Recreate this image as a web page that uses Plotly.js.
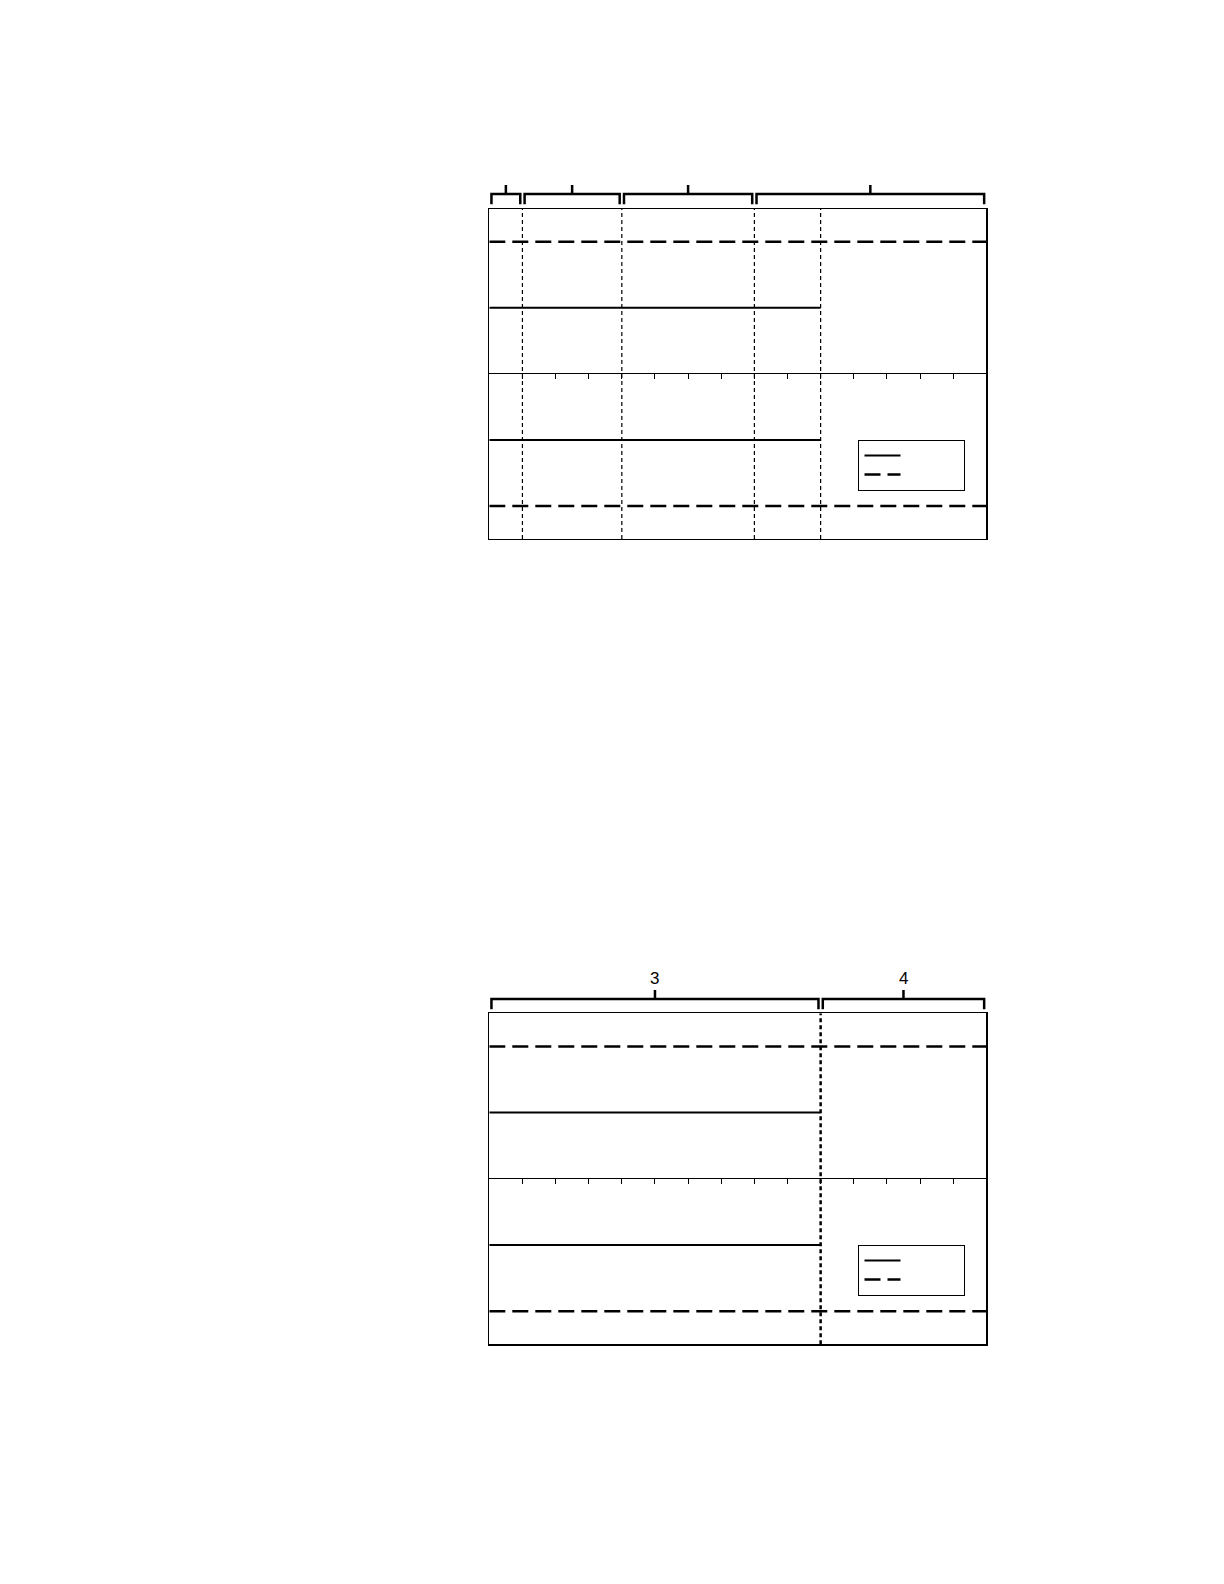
<!DOCTYPE html>
<html>
<head>
<meta charset="utf-8">
<script src="https://cdn.plot.ly/plotly-3.0.1.min.js"></script>
<style>
  html, body { margin: 0; padding: 0; background: #fff; overflow: hidden; }
  #chart { width: 1224px; height: 1584px; }
</style>
</head>
<body>
<div id="chart"></div>
<script>
// data
const xRange = [0, 15];
const yRange = [-2.5, 2.5];
const dashedLevels = [-2, 2];
const solidLevels = [-1, 1];
const solidEnd = 10;

const panel1Breaks = [1, 4, 8, 10];
const panel1BracketStart = [0, 1, 4, 8];
const panel1BracketEnd = [1, 4, 8, 15];
const panel1BracketLabels = ['', '', '', ''];

const panel2Breaks = [10];
const panel2BracketStart = [0, 10];
const panel2BracketEnd = [10, 15];
const panel2BracketLabels = ['3', '4'];

const legendNames = ['\u00a0'.repeat(24), '\u00a0'.repeat(24)];

// layout helpers (page is 1224 x 1584, margins 0 -> paper == pixels)
const W = 1224, H = 1584;
const px = v => v / W;
const py = v => (H - v) / H;

const DASH = '16px,7px';
const traces = [];
const annotations = [];

function addPanel(xa, ya, yStrip, legendId, breaks, bStart, bEnd, bLabels, dotWidth, dotDash) {
    // vertical dotted separators
    breaks.forEach(b => {
        traces.push({ x: [b, b], y: yRange, xaxis: xa, yaxis: ya, mode: 'lines',
            line: { color: '#000', width: dotWidth, dash: dotDash }, showlegend: false, hoverinfo: 'skip' });
    });
    // solid lines (legend entry 1)
    solidLevels.forEach((lv, i) => {
        traces.push({ x: [xRange[0], solidEnd], y: [lv, lv], xaxis: xa, yaxis: ya, mode: 'lines',
            line: { color: '#000', width: 2 }, name: legendNames[0], legend: legendId,
            legendgroup: legendId + 's', showlegend: i === 0, hoverinfo: 'skip' });
    });
    // dashed lines (legend entry 2)
    dashedLevels.forEach((lv, i) => {
        traces.push({ x: xRange, y: [lv, lv], xaxis: xa, yaxis: ya, mode: 'lines',
            line: { color: '#000', width: 2.5, dash: DASH }, name: legendNames[1], legend: legendId,
            legendgroup: legendId + 'd', showlegend: i === 0, hoverinfo: 'skip' });
    });
    // brackets on top
    const g = 0.065, low = 0.57, lvl = 1.6, top = 2.5;
    bStart.forEach((s, i) => {
        const e = bEnd[i], c = (s + e) / 2;
        traces.push({ x: [s + g, s + g, e - g, e - g, null, c, c],
            y: [low, lvl, lvl, low, null, lvl, top],
            xaxis: xa, yaxis: yStrip, mode: 'lines', line: { color: '#000', width: 2.5 },
            showlegend: false, hoverinfo: 'skip' });
        if (bLabels[i]) {
            annotations.push({ x: c, y: top, xref: xa, yref: yStrip, text: bLabels[i],
                showarrow: false, yanchor: 'bottom', yshift: 0,
                font: { family: 'Liberation Sans, Arial', size: 17, color: '#000' } });
        }
    });
}

addPanel('x', 'y', 'y3', 'legend', panel1Breaks, panel1BracketStart, panel1BracketEnd,
    panel1BracketLabels, 1.2, '4px,3px');
addPanel('x2', 'y2', 'y4', 'legend2', panel2Breaks, panel2BracketStart, panel2BracketEnd,
    panel2BracketLabels, 2.5, '4px,3px');

// empty traces so the tick axes exist
traces.push({ x: [], y: [], xaxis: 'x5', yaxis: 'y5', showlegend: false });
traces.push({ x: [], y: [], xaxis: 'x6', yaxis: 'y6', showlegend: false });

const xDom = [px(489.3), px(986.3)];
const frameX = (anchor) => ({ domain: xDom, range: xRange, anchor: anchor, showline: true, mirror: true,
    linecolor: '#000', linewidth: 1.2, showgrid: false, zeroline: false, ticks: '', showticklabels: false });
const frameY = (anchor, dom) => ({ domain: dom, range: yRange, anchor: anchor, showline: true, mirror: true,
    linecolor: '#000', linewidth: 1.2, showgrid: false, zeroline: true, zerolinecolor: '#000', zerolinewidth: 1.2,
    ticks: '', showticklabels: false });
const stripY = (anchor, dom) => ({ domain: dom, range: [0, 3], anchor: anchor, visible: false, fixedrange: true });
const tickX = (anchor) => ({ domain: xDom, range: xRange, anchor: anchor, side: 'top', ticks: 'inside',
    ticklen: 5, tickwidth: 1, tickcolor: '#000', dtick: 1, tick0: 0, showticklabels: false,
    showline: false, showgrid: false, zeroline: false });
const tickY = (anchor, dom) => ({ domain: dom, range: [0, 1], anchor: anchor, visible: false });

const legendBox = (yTop) => ({ x: px(858.3), y: py(yTop), xanchor: 'left', yanchor: 'top',
    bordercolor: '#000', borderwidth: 1.2, bgcolor: '#fff', tracegroupgap: 0, itemwidth: 36,
    font: { family: 'Liberation Sans, Arial', size: 8, color: '#000' } });

const layout = {
    width: W, height: H,
    margin: { l: 0, r: 0, t: 0, b: 0 },
    paper_bgcolor: '#fff', plot_bgcolor: 'rgba(0,0,0,0)',
    font: { family: 'Liberation Sans, Arial', color: '#000' },
    xaxis: frameX('y'),
    yaxis: frameY('x', [py(539), py(208.7)]),
    xaxis2: frameX('y2'),
    yaxis2: frameY('x2', [py(1344.3), py(1013.3)]),
    yaxis3: stripY('x', [py(210), py(180)]),
    yaxis4: stripY('x2', [py(1015), py(985)]),
    xaxis5: tickX('y5'),
    yaxis5: tickY('x5', [py(539), py(373.8)]),
    xaxis6: tickX('y6'),
    yaxis6: tickY('x6', [py(1344.3), py(1178.8)]),
    legend: legendBox(439.8),
    legend2: legendBox(1244.8),
    annotations: annotations
};

Plotly.newPlot('chart', traces, layout, { staticPlot: true });
</script>
</body>
</html>
